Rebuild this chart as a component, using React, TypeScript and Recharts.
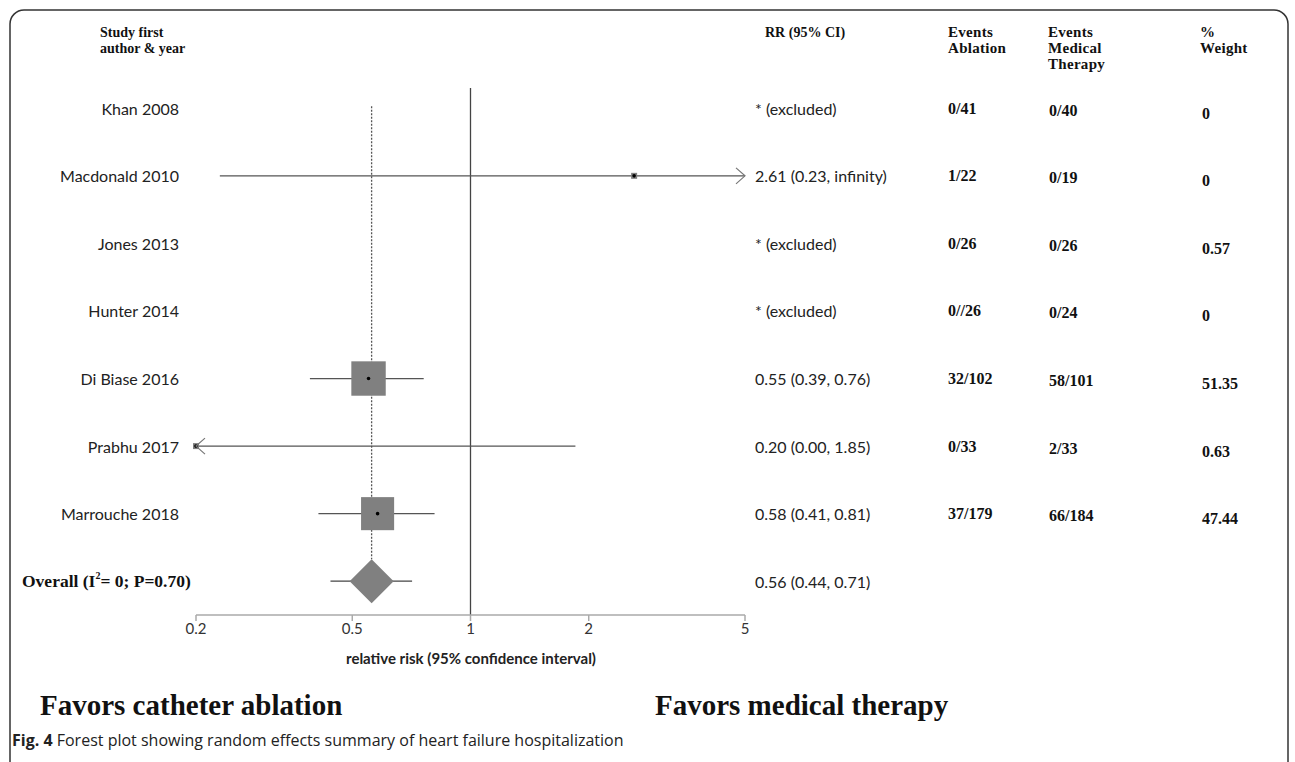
import React from 'react';
import { ScatterChart, Scatter, XAxis, YAxis, ReferenceLine, Customized } from 'recharts';

// ---------- data ----------
const studies = ['Khan 2008', 'Macdonald 2010', 'Jones 2013', 'Hunter 2014', 'Di Biase 2016', 'Prabhu 2017', 'Marrouche 2018'];
const rr: (number | null)[] = [null, 2.61, null, null, 0.55, 0.2, 0.58];
const ciLow: (number | null)[] = [null, 0.23, null, null, 0.39, 0.0, 0.41];
const ciHigh: (number | null)[] = [null, Infinity, null, null, 0.76, 1.85, 0.81];
const rrText = ['* (excluded)', '2.61 (0.23, infinity)', '* (excluded)', '* (excluded)', '0.55 (0.39, 0.76)', '0.20 (0.00, 1.85)', '0.58 (0.41, 0.81)'];
const eventsAblation = ['0/41', '1/22', '0/26', '0//26', '32/102', '0/33', '37/179'];
const eventsMedical = ['0/40', '0/19', '0/26', '0/24', '58/101', '2/33', '66/184'];
const weights = ['0', '0', '0.57', '0', '51.35', '0.63', '47.44'];
const overallRR = 0.56;
const overallLow = 0.44;
const overallHigh = 0.71;
const overallText = '0.56 (0.44, 0.71)';
const xTicks = [0.2, 0.5, 1, 2, 5];

// ---------- layout ----------
const W = 1295;
const H = 762;
const X_MIN = 0.2;
const X_MAX = 5;
const OVERALL_ROW = studies.length + 1;

const SANS = 'Lato, "Open Sans", sans-serif';
const SERIF = '"Liberation Serif", "Times New Roman", serif';

const textRows = studies.map((name, i) => ({
  x: 1,
  y: i + 1,
  name,
  rr: rrText[i],
  abl: eventsAblation[i],
  med: eventsMedical[i],
  w: weights[i],
}));
const overallTextRow = [{ x: 1, y: OVERALL_ROW }];

const markerData = studies
  .map((n, i) => (rr[i] == null ? null : { x: rr[i] as number, y: i + 1, weight: parseFloat(weights[i]) }))
  .filter(Boolean) as { x: number; y: number; weight: number }[];

const arrowData: { x: number; y: number; dir: number }[] = [];
studies.forEach((n, i) => {
  const hi = ciHigh[i];
  const lo = ciLow[i];
  if (hi != null && hi > X_MAX) arrowData.push({ x: X_MAX, y: i + 1, dir: 1 });
  if (lo != null && lo < X_MIN) arrowData.push({ x: X_MIN, y: i + 1, dir: -1 });
});

const ciSegments = studies
  .map((n, i) => {
    const lo = ciLow[i];
    const hi = ciHigh[i];
    if (lo == null || hi == null) return null;
    return { y: i + 1, lo: Math.max(lo, X_MIN), hi: Math.min(hi, X_MAX) };
  })
  .filter(Boolean) as { y: number; lo: number; hi: number }[];

const overallData = [{ x: overallRR, y: OVERALL_ROW }];

// ---------- shapes ----------
const valStyle = { fontFamily: SERIF, fontSize: 16, fontWeight: 'bold' as const, fill: '#111' };

const RowText = (p: any) => {
  const { cy, payload } = p;
  return (
    <g>
      <text x={179} y={cy} textAnchor="end" dominantBaseline="central" style={{ fontFamily: SANS, fontSize: 16, fill: '#222' }}>
        {payload.name}
      </text>
      <text x={755} y={cy} dominantBaseline="central" style={{ fontFamily: SANS, fontSize: 16, fill: '#222' }}>
        {payload.rr}
      </text>
      <text x={948} y={cy} dominantBaseline="central" style={valStyle}>
        {payload.abl}
      </text>
      <text x={1049} y={cy + 2} dominantBaseline="central" style={valStyle}>
        {payload.med}
      </text>
      <text x={1202} y={cy + 5} dominantBaseline="central" style={valStyle}>
        {payload.w}
      </text>
    </g>
  );
};

const OverallText = (p: any) => {
  const { cy } = p;
  return (
    <g>
      <text x={22} y={cy} dominantBaseline="central" style={{ fontFamily: SERIF, fontSize: 17.5, fontWeight: 'bold', fill: '#111' }}>
        Overall (I
        <tspan dy={-6} style={{ fontSize: 10 }}>2</tspan>
        <tspan dy={6}>= 0; P=0.70)</tspan>
      </text>
      <text x={755} y={cy} dominantBaseline="central" style={{ fontFamily: SANS, fontSize: 16, fill: '#222' }}>
        {overallText}
      </text>
    </g>
  );
};

const SquareShape = (p: any) => {
  const { cx, cy, payload } = p;
  const s = Math.max(6, Math.sqrt(payload.weight) * 4.8);
  return (
    <g>
      <rect x={cx - s / 2} y={cy - s / 2} width={s} height={s} fill="#808080" />
      <circle cx={cx} cy={cy} r={1.8} fill="#000" />
    </g>
  );
};

const DiamondShape = (p: any) => {
  const { cx, cy } = p;
  const hw = 22;
  const hh = 22;
  return <polygon points={`${cx - hw},${cy} ${cx},${cy - hh} ${cx + hw},${cy} ${cx},${cy + hh}`} fill="#808080" />;
};

const ArrowShape = (p: any) => {
  const { cx, cy, payload } = p;
  const d = payload.dir;
  return (
    <polyline
      points={`${cx - d * 9},${cy - 8} ${cx},${cy} ${cx - d * 9},${cy + 8}`}
      fill="none"
      stroke="#777"
      strokeWidth={1.2}
    />
  );
};

const Decorations = () => (
  <g>
    <rect x={10} y={10} width={1278} height={800} rx={14} ry={14} fill="none" stroke="#333" strokeWidth={1.5} />
    <g style={{ fontFamily: SERIF, fontSize: 14, fontWeight: 'bold', fill: '#111' }}>
      <text x={100} y={37}>Study first</text>
      <text x={100} y={53}>author &amp; year</text>
      <text x={765} y={37}>RR (95% CI)</text>
    </g>
    <g style={{ fontFamily: SERIF, fontSize: 15, fontWeight: 'bold', fill: '#111', letterSpacing: 0.3 }}>
      <text x={948} y={37}>Events</text>
      <text x={948} y={53}>Ablation</text>
      <text x={1048} y={37}>Events</text>
      <text x={1048} y={53}>Medical</text>
      <text x={1048} y={69}>Therapy</text>
      <text x={1200} y={37}>%</text>
      <text x={1200} y={53}>Weight</text>
    </g>
    <text x={471} y={658} textAnchor="middle" dominantBaseline="central" style={{ fontFamily: SANS, fontSize: 15, fontWeight: 'bold', fill: '#222' }}>
      relative risk (95% confidence interval)
    </text>
    <text x={40} y={715} style={{ fontFamily: SERIF, fontSize: 29, fontWeight: 'bold', fill: '#111' }}>
      Favors catheter ablation
    </text>
    <text x={655} y={715} style={{ fontFamily: SERIF, fontSize: 29, fontWeight: 'bold', fill: '#111' }}>
      Favors medical therapy
    </text>
    <text x={12} y={746} style={{ fontFamily: '"Open Sans", sans-serif', fontSize: 16, fill: '#222' }}>
      <tspan style={{ fontWeight: 'bold' }}>Fig. 4</tspan>
      <tspan> Forest plot showing random effects summary of heart failure hospitalization</tspan>
    </text>
  </g>
);

export default function App() {
  return (
    <div style={{ position: 'absolute', left: 0, top: 0, width: W, height: H, background: '#fff' }}>
      <ScatterChart width={W} height={H} margin={{ top: 88, left: 196, right: W - 745, bottom: H - 615 - 30 }}>
        <XAxis
          dataKey="x"
          type="number"
          scale="log"
          domain={[X_MIN, X_MAX]}
          ticks={xTicks}
          interval={0}
          tickFormatter={(v: number) => String(v)}
          axisLine={{ stroke: '#aaa', strokeWidth: 1.5 }}
          tickLine={{ stroke: '#aaa', strokeWidth: 1.5 }}
          tickSize={6}
          tick={{ fill: '#333', fontSize: 15, fontFamily: SANS }}
        />
        <YAxis dataKey="y" type="number" domain={[0.7, OVERALL_ROW + 0.5]} reversed hide />
        <Customized component={<Decorations />} />
        <Scatter data={markerData} shape={SquareShape} isAnimationActive={false} />
        <Scatter data={overallData} shape={DiamondShape} isAnimationActive={false} />
        <ReferenceLine x={1} stroke="#444" strokeWidth={1.3} />
        <ReferenceLine
          segment={[
            { x: overallRR, y: 0.97 },
            { x: overallRR, y: OVERALL_ROW - 0.325 },
          ]}
          stroke="#555"
          strokeWidth={1.3}
          strokeDasharray="2 1.5"
        />
        {ciSegments.map((s, i) => (
          <ReferenceLine
            key={i}
            segment={[
              { x: s.lo, y: s.y },
              { x: s.hi, y: s.y },
            ]}
            stroke="#555"
            strokeWidth={1.3}
          />
        ))}
        <ReferenceLine
          segment={[
            { x: overallLow, y: OVERALL_ROW },
            { x: overallHigh, y: OVERALL_ROW },
          ]}
          stroke="#444"
          strokeWidth={1.3}
        />
        <Scatter data={arrowData} shape={ArrowShape} isAnimationActive={false} />
        <Scatter data={textRows} shape={RowText} isAnimationActive={false} />
        <Scatter data={overallTextRow} shape={OverallText} isAnimationActive={false} />
      </ScatterChart>
    </div>
  );
}
